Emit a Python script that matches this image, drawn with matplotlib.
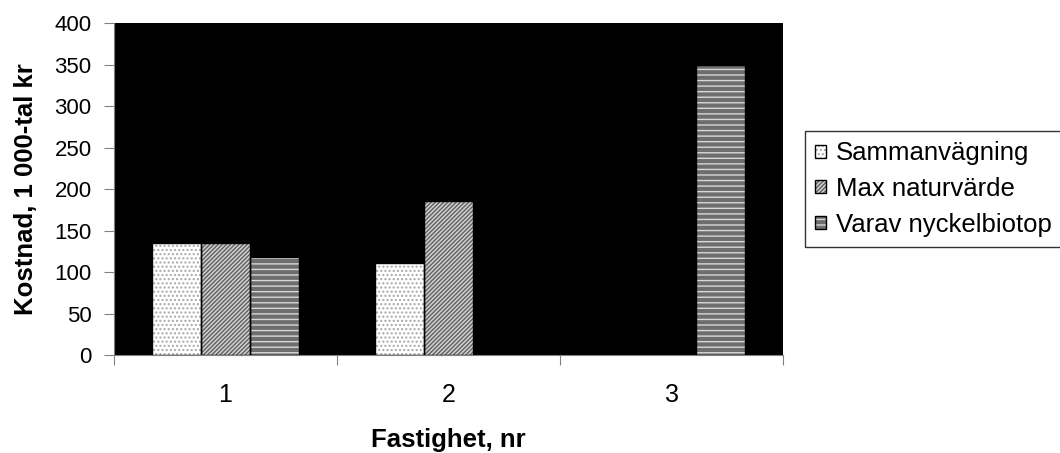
import matplotlib.pyplot as plt
from matplotlib.legend_handler import HandlerTuple
import numpy as np

plt.rcParams['font.family'] = ['Liberation Sans', 'DejaVu Sans']
plt.rcParams['hatch.linewidth'] = 1.0

# Data
fastigheter = ["1", "2", "3"]
sammanvagning = [135, 111, 0]
max_naturvarde = [135, 185, 0]
nyckelbiotop = [118, 0, 350]

series = [
    ("Sammanvägning", sammanvagning, "white", "#a8a8a8", "...."),
    ("Max naturvärde", max_naturvarde, "#d0d0d0", "#606060", "////////"),
    ("Varav nyckelbiotop", nyckelbiotop, "#6e6e6e", "#d8d8d8", "---"),
]

fig = plt.figure(figsize=(10.6, 4.53), dpi=100)
ax = fig.add_axes([0.1075, 0.2163, 0.6312, 0.7329])
ax.set_facecolor("black")

x = np.arange(1, len(fastigheter) + 1)
w = 0.22
handles = []
for i, (name, vals, fc, hc, hatch) in enumerate(series):
    vals = np.array(vals, dtype=float)
    pos = x + (i - 1) * w
    mask = vals > 0
    fill = ax.bar(pos[mask], vals[mask], width=w, facecolor=fc, edgecolor=hc,
                  hatch=hatch, linewidth=0, zorder=2)
    edge = ax.bar(pos[mask], vals[mask], width=w, facecolor="none",
                  edgecolor="black", linewidth=1.0, zorder=3)
    handles.append((fill[0], edge[0]))

ax.set_xlim(0.5, 3.5)
ax.set_ylim(0, 400)
ax.set_yticks(range(0, 401, 50))
ax.set_xticks([0.5, 1.5, 2.5, 3.5])
ax.set_xticklabels([])
ax.set_xticks(x, minor=True)
ax.set_xticklabels(fastigheter, minor=True)
ax.tick_params(axis="x", which="minor", length=0, pad=20, labelsize=18)
ax.tick_params(axis="x", which="major", length=7, color="#808080")
ax.tick_params(axis="y", length=7, color="#808080", labelsize=16, pad=9)

for s in ["top", "right"]:
    ax.spines[s].set_visible(False)
ax.spines["left"].set_color("#808080")
ax.spines["bottom"].set_color("#808080")

ax.set_xlabel("Fastighet, nr", fontsize=18.5, fontweight="bold", labelpad=15)
ax.set_ylabel("Kostnad, 1 000-tal kr", fontsize=18.5, fontweight="bold", labelpad=12)

leg = ax.legend(handles, [s[0] for s in series],
                handler_map={tuple: HandlerTuple(ndivide=1)},
                loc="center left", bbox_to_anchor=(1.033, 0.5),
                borderaxespad=0, frameon=True, fancybox=False,
                edgecolor="black", fontsize=18.5,
                handlelength=0.4, handleheight=0.4, handletextpad=0.4,
                labelspacing=0.45, borderpad=0.4)
leg.get_frame().set_linewidth(1.0)

fig.savefig("out.png", dpi=100)
